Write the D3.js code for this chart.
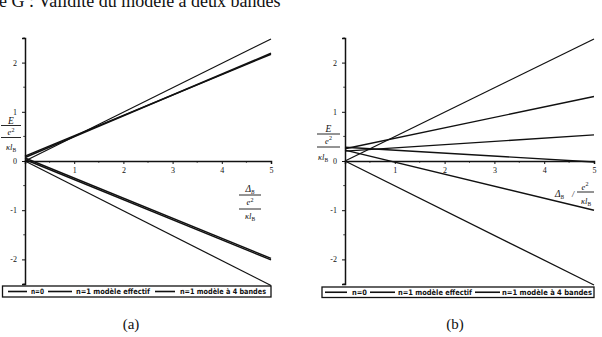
<!DOCTYPE html>
<html><head><meta charset="utf-8">
<script src="https://cdn.jsdelivr.net/npm/d3@7"></script>
<style>body{margin:0;background:#fff}svg{display:block}</style>
</head><body>
<svg id="c" width="602" height="337"></svg>
<script>
// ---- data ----
const deltaDomain = [0, 5];
const energyDomain = [-2.5, 2.5];
const xTickValues = [1, 2, 3, 4, 5];
const xTickLabels = ["1", "2", "3", "4", "5"];
const yTickValues = [-2, -1, 0, 1, 2];
const yTickLabels = ["-2", "-1", "0", "1", "2"];
const legendLabels = ["n=0", "n=1 modèle effectif", "n=1 modèle à 4 bandes"];
const panelCaptions = ["(a)", "(b)"];
const titleText = "Annexe G : Validité du modèle à deux bandes";

// Δ values at which each straight line is sampled
const deltaPoints = [0, 5];
// panel (a): E at Δ = 0 and Δ = 5
const aN0Upper = [0.00, 2.48];
const aN0Lower = [0.00, -2.53];
const aEffUpper = [0.10, 2.17];
const aEffLower = [0.06, -1.98];
const a4bUpper = [0.07, 2.19];
const a4bLower = [0.03, -2.01];
// panel (b)
const bN0Upper = [0.00, 2.48];
const bN0Lower = [0.00, -2.52];
const bEffUpper = [0.25, 1.31];
const bEffLower = [0.22, -1.00];
const b4bUpper = [0.20, 0.53];
const b4bLower = [0.28, -0.02];

const svg = d3.select("#c");
const serif = "Liberation Serif, Times New Roman, serif";

// title (cropped at the top, as in the reference)
const tt = svg.append("text").attr("y", 7)
  .attr("font-family", serif).attr("font-size", 18).attr("fill", "#111").text(titleText);
const tmp = svg.append("text").attr("font-family", serif).attr("font-size", 18).text("Annex");
const shift = tmp.node().getComputedTextLength();
tmp.remove();
tt.attr("x", -shift - 1);

function frac(g, cx, parts) {
  g.append("text").attr("x", cx).attr("y", parts.numY).attr("text-anchor", "middle").attr("fill", "#111")
    .attr("font-family", serif).attr("font-style", "italic").attr("font-size", 9.5).text(parts.num)
    .call(t => { if (parts.numSub) t.append("tspan").attr("font-size", 5.5).attr("dy", 2).text(parts.numSub); });
  g.append("line").attr("x1", cx - parts.w / 2).attr("x2", cx + parts.w / 2)
    .attr("y1", parts.bar1).attr("y2", parts.bar1).attr("stroke", "#111").attr("stroke-width", 0.9);
  const m = g.append("text").attr("x", cx).attr("y", parts.midY).attr("text-anchor", "middle").attr("fill", "#111")
    .attr("font-family", serif).attr("font-style", "italic").attr("font-size", 8.5).text("e");
  m.append("tspan").attr("font-size", 6).attr("dy", -3.5).attr("font-style", "normal").text("2");
  g.append("line").attr("x1", cx - parts.w / 2).attr("x2", cx + parts.w / 2)
    .attr("y1", parts.bar2).attr("y2", parts.bar2).attr("stroke", "#111").attr("stroke-width", 0.9);
  const d = g.append("text").attr("x", parts.denX != null ? parts.denX : cx).attr("y", parts.denY)
    .attr("text-anchor", parts.denX != null ? "start" : "middle").attr("fill", "#111")
    .attr("font-family", serif).attr("font-style", "italic").attr("font-size", 8.5).text(parts.den);
  d.append("tspan").attr("font-size", 5.5).attr("dy", 2).attr("font-style", "normal").text(parts.denSub);
}

function panel(opts) {
  const x = d3.scaleLinear().domain(deltaDomain).range(opts.xr);
  const y = d3.scaleLinear().domain(energyDomain).range([284, 38]);
  const g = svg.append("g");

  const minorX = d3.range(0.5, 5, 1);
  const minorY = d3.range(-2.5, 2.51, 0.5).filter(v => Math.abs(v % 1) > 0.1);

  // y axis
  const ya = g.append("g").attr("transform", `translate(${x(0)},0)`)
    .call(d3.axisLeft(y).tickValues(yTickValues).tickSize(3).tickPadding(5)
      .tickFormat((d, i) => yTickLabels[i]));
  ya.attr("font-family", serif);
  ya.select(".domain").attr("stroke", "#111").attr("stroke-width", 1.5);
  ya.selectAll(".tick line").attr("stroke", "#111").attr("stroke-width", 1);
  ya.selectAll(".tick text").attr("font-family", serif).attr("font-size", 8).attr("fill", "#111");
  g.append("g").selectAll("line").data(minorY).join("line")
    .attr("x1", x(0) - 1.8).attr("x2", x(0)).attr("y1", d => y(d)).attr("y2", d => y(d))
    .attr("stroke", "#111").attr("stroke-width", 0.8);

  // x axis at E = 0
  const xa = g.append("g").attr("transform", `translate(0,${y(0)})`)
    .call(d3.axisBottom(x).tickValues(xTickValues).tickSize(3).tickPadding(3)
      .tickFormat((d, i) => xTickLabels[i]));
  xa.attr("font-family", serif);
  xa.select(".domain").attr("stroke", "#111").attr("stroke-width", 1.5);
  xa.selectAll(".tick line").attr("stroke", "#111").attr("stroke-width", 1);
  xa.selectAll(".tick text").attr("font-family", serif).attr("font-size", 8).attr("fill", "#111");
  g.append("g").selectAll("line").data(minorX).join("line")
    .attr("x1", d => x(d)).attr("x2", d => x(d)).attr("y1", y(0)).attr("y2", y(0) + 1.8)
    .attr("stroke", "#111").attr("stroke-width", 0.8);

  // curves
  const line = d3.line().x((d, i) => x(deltaPoints[i])).y(d => y(d));
  opts.series.forEach(s => {
    g.append("path").datum(s.v).attr("d", line).attr("fill", "none")
      .attr("stroke", "#111").attr("stroke-width", s.w);
  });

  // legend
  const L = opts.legend;
  g.append("rect").attr("x", L.x0).attr("y", L.y0).attr("width", L.x1 - L.x0).attr("height", L.y1 - L.y0)
    .attr("fill", "#fff").attr("stroke", "#111").attr("stroke-width", 1.3);
  legendLabels.forEach((lab, i) => {
    const it = L.items[i];
    g.append("line").attr("x1", it[0]).attr("x2", it[1]).attr("y1", (L.y0 + L.y1) / 2).attr("y2", (L.y0 + L.y1) / 2)
      .attr("stroke", "#111").attr("stroke-width", 1.6);
    g.append("text").attr("x", it[2]).attr("y", L.y1 - 3).attr("font-family", "DejaVu Sans Condensed, DejaVu Sans, sans-serif")
      .attr("font-weight", "bold").attr("font-size", 7.5).attr("fill", "#111")
      .attr("textLength", it[3] - it[2]).attr("lengthAdjust", "spacingAndGlyphs").text(lab);
  });

  // caption
  g.append("text").attr("x", opts.cap).attr("y", 329).attr("text-anchor", "middle")
    .attr("font-family", serif).attr("font-size", 15).attr("fill", "#111").text(opts.caption);
  return g;
}

const ga = panel({
  xr: [25, 271],
  series: [
    { v: aN0Upper, w: 1.2 }, { v: aN0Lower, w: 1.2 },
    { v: aEffUpper, w: 1.5 }, { v: aEffLower, w: 1.5 },
    { v: a4bUpper, w: 1.5 }, { v: a4bLower, w: 1.5 }
  ],
  legend: { x0: 2.5, x1: 271, y0: 286, y1: 297,
    items: [[8, 27, 31, 44], [48, 72, 76, 150], [155, 175, 180, 266]] },
  cap: 131, caption: panelCaptions[0]
});
frac(ga, 11, { numY: 123.5, num: "E", bar1: 125.5, midY: 135, bar2: 137.5, denY: 149.5, den: "κl", denSub: "B", w: 20 });
frac(ga, 250, { numY: 192, num: "Δ", numSub: "B", bar1: 195, midY: 205, bar2: 209, denY: 219, den: "κl", denSub: "B", w: 22 });

const gb = panel({
  xr: [345, 594],
  series: [
    { v: bN0Upper, w: 1.3 }, { v: bN0Lower, w: 1.3 },
    { v: bEffUpper, w: 1.4 }, { v: bEffLower, w: 1.4 },
    { v: b4bUpper, w: 1.4 }, { v: b4bLower, w: 1.4 }
  ],
  legend: { x0: 322, x1: 594, y0: 287, y1: 297.5,
    items: [[325, 347, 352, 367], [370, 395, 398, 472], [475, 500, 502, 592]] },
  cap: 455, caption: panelCaptions[1]
});
frac(gb, 328.5, { numY: 132, num: "E", bar1: 134, midY: 143.5, bar2: 147, denX: 318, denY: 160, den: "κl", denSub: "B", w: 23 });
// panel (b) x label: Δ_B / (e²/κl_B)
gb.append("text").attr("x", 555).attr("y", 197).attr("font-family", serif)
  .attr("font-style", "italic").attr("font-size", 9.5).attr("fill", "#111").text("Δ")
  .append("tspan").attr("font-size", 5.5).attr("dy", 2).text("B");
gb.append("text").attr("x", 572).attr("y", 197).attr("font-family", serif)
  .attr("font-style", "italic").attr("font-size", 8).attr("fill", "#111").text("/");
(function () {
  const t = gb.append("text").attr("x", 585).attr("y", 189.5).attr("text-anchor", "middle").attr("font-family", serif)
    .attr("font-style", "italic").attr("font-size", 8.5).attr("fill", "#111").text("e");
  t.append("tspan").attr("font-size", 6).attr("dy", -3.5).attr("font-style", "normal").text("2");
  gb.append("line").attr("x1", 577).attr("x2", 594).attr("y1", 192).attr("y2", 192).attr("stroke", "#111").attr("stroke-width", 0.9);
  const d = gb.append("text").attr("x", 586).attr("y", 204).attr("text-anchor", "middle").attr("font-family", serif)
    .attr("font-style", "italic").attr("font-size", 8.5).attr("fill", "#111").text("κl");
  d.append("tspan").attr("font-size", 5.5).attr("dy", 2).attr("font-style", "normal").text("B");
})();
</script>
</body></html>
